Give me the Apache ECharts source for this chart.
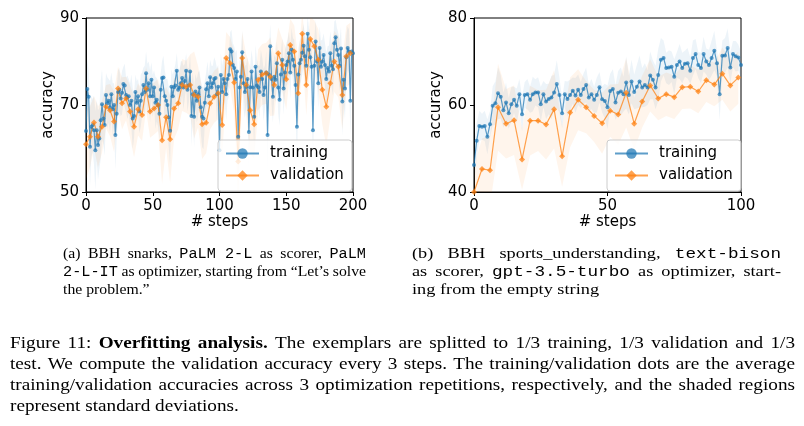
<!DOCTYPE html>
<html><head><meta charset="utf-8">
<script src="https://cdn.jsdelivr.net/npm/echarts@6/dist/echarts.min.js"></script>
<style>html,body{margin:0;padding:0;background:#fff}#c{width:804px;height:426px}</style>
</head><body><div id="c"></div>
<script>
// ---------------- data: chart (a) BBH snarks ----------------
const trainA = [
64.0,73.7,71.9,60.4,65.0,65.4,64.2,59.6,64.2,60.8,
62.3,66.5,70.2,66.9,65.4,72.3,70.4,71.0,69.5,72.5,
69.0,70.0,63.1,68.0,73.0,73.5,71.5,72.8,74.8,74.5,
72.3,71.8,72.0,70.0,71.0,66.9,67.5,73.0,70.5,72.0,
68.5,71.0,72.5,74.6,73.0,77.3,73.5,75.0,72.0,75.8,
72.0,74.0,70.5,71.2,70.0,68.0,73.5,76.2,76.3,72.0,
71.0,70.0,67.2,64.1,74.2,72.0,74.1,74.5,77.9,73.5,
74.0,75.0,76.2,74.0,75.5,77.9,73.5,74.5,77.7,67.5,
72.5,67.3,73.1,71.0,72.5,74.0,69.5,67.3,66.9,70.5,
73.6,75.0,72.0,76.4,74.0,75.0,76.0,76.2,72.5,74.2,
59.6,76.9,73.0,76.0,75.0,72.5,76.0,76.9,82.8,82.3,
79.2,78.5,76.0,77.7,62.7,74.0,76.5,82.1,75.0,73.0,
74.2,76.0,63.8,74.1,77.7,74.0,67.3,78.8,74.5,74.1,
73.0,77.7,76.0,72.3,74.0,77.5,63.1,77.0,83.5,76.0,
71.9,76.5,75.8,79.6,74.0,71.2,77.0,80.4,73.8,77.5,
79.2,80.0,81.9,77.5,82.7,80.4,79.0,74.6,65.0,77.0,
79.6,80.4,82.0,83.6,81.2,79.0,86.4,82.7,81.0,78.8,
64.2,79.0,84.6,80.0,75.0,83.1,78.8,80.0,81.5,79.2,
76.0,78.5,77.7,81.9,79.0,78.2,84.2,85.6,82.7,81.5,
79.0,83.0,70.8,75.8,73.8,81.0,83.1,82.3,71.0,82.3,
81.9];
const trainAStd = [
8,7,6,9,7,6,8,9,7,8, 7,9,8,6,7,5,6,5,6,5, 6,5,8,6,5,5,4,5,4,5, 4,5,4,5,6,7,5,4,5,4,
5,6,5,4,6,5,6,5,6,4, 5,4,6,5,5,6,4,4,5,6, 5,6,7,8,4,5,4,5,4,5, 4,5,4,5,4,4,5,4,4,7,
5,7,4,5,5,4,6,7,7,5, 4,5,5,4,5,4,5,4,6,5, 9,5,6,5,5,6,5,5,4,5, 5,5,6,5,9,6,5,5,6,6,
5,5,9,5,5,6,8,5,6,5, 6,5,5,6,5,5,9,6,5,6, 6,5,5,5,6,6,5,5,6,5, 5,5,5,6,5,5,6,6,9,6,
5,5,5,5,5,6,4,5,5,6, 9,6,5,5,6,5,6,5,5,5, 6,5,6,5,5,6,5,4,5,5, 6,5,8,6,7,5,5,5,8,5, 5];
const valA = [
61.0,62.7,66.0,62.7,65.0,69.6,68.8,66.2,73.8,70.4,
71.5,68.5,65.0,69.0,67.7,73.8,68.5,69.2,70.0,61.9,
67.2,62.1,69.2,70.4,74.6,74.2,74.6,72.3,71.9,65.6,
65.9,70.4,71.9,72.7,65.4,80.8,79.6,75.2,57.0,80.8,
74.6,68.8,65.6,75.8,77.0,77.3,76.5,74.6,81.9,79.2,
75.9,83.8,82.3,72.7,86.4,74.6,85.2,83.5,80.4,73.5,
69.6,75.0,80.0,78.8,72.3,81.2,81.9];
const valAStd = [
8,7,6,7,6,5,6,7,5,6, 5,6,7,6,6,5,6,6,6,10, 7,10,7,6,6,6,7,10,7,8,
7,6,6,6,8,6,6,7,10,6, 7,10,8,7,7,7,9,7,6,6, 7,6,6,8,5,7,5,6,7,8, 9,8,7,7,8,7,7];

// ---------------- data: chart (b) BBH sports_understanding ----------------
const trainB = [
46.2,51.8,55.2,55.0,55.2,52.7,55.6,59.8,60.4,62.7,
61.9,58.8,60.6,58.1,60.2,61.2,59.8,62.5,57.9,62.3,
62.5,61.2,62.5,62.9,62.9,60.2,62.5,60.8,61.4,61.7,
62.9,64.8,62.3,58.1,62.5,61.4,62.3,63.3,62.2,63.5,
62.3,63.7,64.6,61.7,62.5,61.2,62.3,64.1,61.3,60.9,
59.5,63.2,63.7,60.6,62.8,63.1,62.5,65.2,62.3,65.4,
63.0,64.2,65.4,64.0,64.6,64.0,66.8,65.8,64.0,66.9,
70.4,70.8,68.5,68.6,68.8,66.5,69.2,70.0,68.5,69.5,
69.6,67.9,70.8,71.7,69.2,68.5,71.7,70.0,69.2,70.8,
72.5,69.6,62.5,71.3,71.4,73.1,68.6,71.7,71.2,70.9,
69.2];
const trainBStd = [
5,4,3.5,3,3.5,4,3,4.5,5,6, 5,4,4.5,3.5,4,3,4,3.5,4,3, 3.5,3,4,3,3.5,4,3,4,3.5,5,
4,5.5,4,3.5,3,4,3.5,3,4,3.5, 3,3.5,4,3,3.5,3,4,3.5,3,4, 5,4,4.5,4,5,5.5,4,6,4.5,5,
4,5,6,4.5,5,4,5.5,4.5,5,6, 5,4,3.5,4,3.5,4,3,4,3.5,3, 3.5,3,4,3.5,3,3.5,4,3,3.5,4,
4.5,3,6,3.5,4,4.5,3.5,3,3.5,3, 3];
const valB = [
40.0,45.3,45.0,59.5,55.7,56.5,47.5,56.4,56.4,55.5,
59.0,48.2,58.3,61.2,59.5,57.5,55.8,58.7,57.8,62.8,
55.7,60.8,64.5,61.5,62.5,61.8,64.1,64.2,63.1,65.7,
64.7,67.2,64.5,66.3];
const valBStd = [
6,7,8,10,8,8,7,8,7,8, 9,7,8,7,6,6,7,6,7,8, 6,6,6,5,5,5,5,5,5,5, 5,6,6,6];

// validation is computed every 3 steps
const VAL_EVERY = 3;
const xTicksA = [0, 50, 100, 150, 200];
const yTicksA = [50, 70, 90];
const xTicksB = [0, 50, 100];
const yTicksB = [40, 60, 80];

// ---------------- caption texts ----------------
const capA = [
  "(a) BBH snarks, `PaLM 2-L` as scorer, `PaLM`",
  "`2-L-IT` as optimizer, starting from \u201CLet\u2019s solve",
  "the problem.\u201D"
];
const capB = [
  "(b) BBH sports_understanding, `text-bison`",
  "as scorer, `gpt-3.5-turbo` as optimizer, start-",
  "ing from the empty string"
];
const capFig = [
  "Figure 11: **Overfitting analysis.** The exemplars are splitted to 1/3 training, 1/3 validation and 1/3",
  "test. We compute the validation accuracy every 3 steps. The training/validation dots are the average",
  "training/validation accuracies across 3 optimization repetitions, respectively, and the shaded regions",
  "represent standard deviations."
];

// ---------------- styling ----------------
const BLUE = 'rgba(31,119,180,0.72)';
const ORANGE = 'rgba(255,127,14,0.72)';
const BLUE_BAND = 'rgba(31,119,180,0.08)';
const ORANGE_BAND = 'rgba(255,127,14,0.08)';
const TICKFONT = 'DejaVu Sans';

const chart = echarts.init(document.getElementById('c'), null, {renderer: 'canvas'});

function bandSeries(gi, steps, mean, std, fill) {
  const pts = steps.map((s, i) => [s, mean[i] - std[i], mean[i] + std[i]]);
  return {
    type: 'custom', xAxisIndex: gi, yAxisIndex: gi, clip: true, silent: true, z: 1,
    data: pts, encode: {x: 0, y: [1, 2]},
    renderItem: function (params, api) {
      if (params.dataIndex !== 0) return null;
      const up = pts.map(p => api.coord([p[0], p[2]]));
      const lo = pts.map(p => api.coord([p[0], p[1]])).reverse();
      return {type: 'polygon', shape: {points: up.concat(lo)}, style: {fill: fill, stroke: null}};
    }
  };
}
function lineSeries(gi, steps, mean, color, name, symbol, size) {
  return {type: 'line', name: name, xAxisIndex: gi, yAxisIndex: gi,
    data: steps.map((s, i) => [s, mean[i]]), symbol: symbol, symbolSize: size, showSymbol: true,
    lineStyle: {color: color, width: 1.2}, itemStyle: {color: color, borderWidth: 0}, z: 3};
}

const stepsTrainA = trainA.map((_, i) => i);
const stepsValA = valA.map((_, i) => i * VAL_EVERY);
const stepsTrainB = trainB.map((_, i) => i);
const stepsValB = valB.map((_, i) => i * VAL_EVERY);

function axisPair(gi, xt, yt) {
  const lab = {color: '#000', fontFamily: TICKFONT, fontSize: 15};
  const common = {
    axisLine: {show: true, onZero: false, lineStyle: {color: '#000', width: 1}},
    axisTick: {show: true, length: 4, lineStyle: {color: '#000'}},
    axisLabel: Object.assign({margin: 7}, lab), splitLine: {show: false},
    nameLocation: 'middle', nameTextStyle: {color: '#000', fontFamily: TICKFONT, fontSize: 15}
  };
  return {
    x: Object.assign({type: 'value', gridIndex: gi, min: xt[0], max: xt[xt.length - 1],
        interval: xt[1] - xt[0], name: '# steps', nameGap: 23}, common),
    y: Object.assign({type: 'value', gridIndex: gi, min: yt[0], max: yt[yt.length - 1],
        interval: yt[1] - yt[0], name: 'accuracy', nameGap: 30}, common)
  };
}
const axA = axisPair(0, xTicksA, yTicksA);
const axB = axisPair(1, xTicksB, yTicksB);

function legendAt(left, top) {
  return {
    orient: 'vertical', left: left, top: top, selectedMode: false,
    data: ['training', 'validation'],
    itemWidth: 33, itemHeight: 13, itemGap: 7, padding: [6, 8, 8, 7],
    backgroundColor: 'rgba(255,255,255,0.8)', borderColor: '#cccccc', borderWidth: 1, borderRadius: 3,
    textStyle: {color: '#000', fontFamily: TICKFONT, fontSize: 15, padding: [0, 0, 0, 6]}
  };
}

// ---------------- justified caption text via graphic ----------------
const measureCtx = document.createElement('canvas').getContext('2d');
function tokenize(str) {
  const words = []; let cur = []; let run = ''; let f = 's';
  function flushRun() { if (run.length) { cur.push({t: run, f: f}); run = ''; } }
  function flushWord() { flushRun(); if (cur.length) { words.push(cur); cur = []; } }
  for (let i = 0; i < str.length; i++) {
    if (str.startsWith('**', i)) { flushRun(); f = (f === 'b') ? 's' : 'b'; i++; continue; }
    const c = str[i];
    if (c === '`') { flushRun(); f = (f === 'm') ? 's' : 'm'; continue; }
    if (c === ' ' && f !== 'm') { flushWord(); continue; }
    run += c;
  }
  flushWord();
  return words;
}
function textLines(lines, x0, x1, y0, dy, fonts, sx0) {
  const els = [];
  lines.forEach((ln, li) => {
    const words = tokenize(ln);
    const raw = (r) => { measureCtx.font = fonts[r.f]; return measureCtx.measureText(r.t).width; };
    const rawWidths = words.map(w => w.reduce((a, r) => a + raw(r), 0));
    const rawTotal = rawWidths.reduce((a, b) => a + b, 0);
    const rawSp = raw({t: ' ', f: 's'});
    const justify = li < lines.length - 1;
    let sx = sx0;
    const minGap = rawSp * 0.8 * sx0;
    if (justify && rawTotal * sx + (words.length - 1) * minGap > x1 - x0) {
      sx = (x1 - x0 - (words.length - 1) * minGap) / rawTotal;
    }
    const total = rawTotal * sx;
    const gap = justify && words.length > 1 ? (x1 - x0 - total) / (words.length - 1) : rawSp * sx;
    let x = x0;
    const y = y0 + li * dy;
    words.forEach((w, wi) => {
      let rx = x;
      w.forEach(r => {
        els.push({type: 'text', x: rx, y: y, scaleX: sx, silent: true,
          style: {text: r.t, font: fonts[r.f], fill: '#000', verticalAlign: 'middle', align: 'left'}});
        rx += raw(r) * sx;
      });
      x += rawWidths[wi] * sx + gap;
    });
  });
  return els;
}
const smallFonts = {s: '15px "Liberation Serif"', m: '14.5px "Liberation Mono"', b: 'bold 15px "Liberation Serif"'};
const bigFonts = {s: '17px "Liberation Serif"', m: '15px "Liberation Mono"', b: 'bold 17px "Liberation Serif"'};
const graphics = [].concat(
  textLines(capA, 63, 366, 254, 18, smallFonts, 1.05),
  textLines(capB, 412, 781, 254, 18, smallFonts, 1.22),
  textLines(capFig, 10, 795, 344, 21, bigFonts, 1.13)
);

const option = {
  animation: false,
  backgroundColor: '#fff',
  grid: [
    {left: 86, top: 18, width: 267, height: 174, show: true, borderColor: '#000', borderWidth: 1, backgroundColor: 'transparent'},
    {left: 474, top: 18, width: 267, height: 174, show: true, borderColor: '#000', borderWidth: 1, backgroundColor: 'transparent'}
  ],
  xAxis: [axA.x, axB.x],
  yAxis: [axA.y, axB.y],
  legend: [legendAt(218, 140), legendAt(607, 140)],
  series: [
    bandSeries(0, stepsTrainA, trainA, trainAStd, BLUE_BAND),
    bandSeries(0, stepsValA, valA, valAStd, ORANGE_BAND),
    lineSeries(0, stepsTrainA, trainA, BLUE, 'training', 'circle', 4),
    lineSeries(0, stepsValA, valA, ORANGE, 'validation', 'diamond', 6),
    bandSeries(1, stepsTrainB, trainB, trainBStd, BLUE_BAND),
    bandSeries(1, stepsValB, valB, valBStd, ORANGE_BAND),
    lineSeries(1, stepsTrainB, trainB, BLUE, 'training', 'circle', 4),
    lineSeries(1, stepsValB, valB, ORANGE, 'validation', 'diamond', 6)
  ],
  graphic: graphics
};
chart.setOption(option);
</script>
</body></html>
